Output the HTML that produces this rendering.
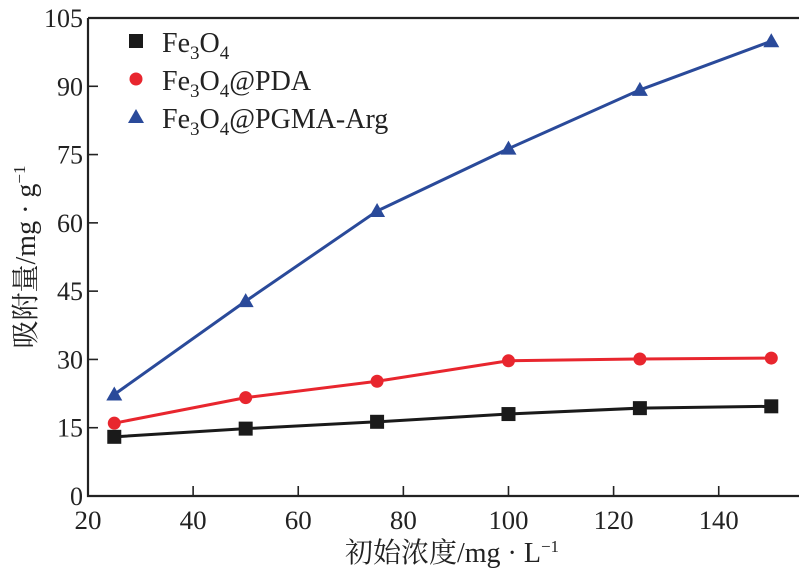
<!DOCTYPE html>
<html><head><meta charset="utf-8"><style>
body{margin:0;background:#fff;width:799px;height:573px;overflow:hidden}
svg text{font-family:"Liberation Serif","Noto Serif CJK SC",serif;fill:#222}
</style></head><body>
<svg id="chart" width="799" height="573" viewBox="0 0 799 573" xmlns="http://www.w3.org/2000/svg">
<g id="axes"></g><g id="series"></g><g id="legend"></g>
</svg>
<script>
const xValues=[25,50,75,100,125,150];
const fe3o4=[13,14.8,16.3,18,19.3,19.7];
const pda=[16,21.6,25.2,29.7,30.1,30.3];
const arg=[22.3,42.8,62.6,76.3,89.2,99.9];
const xTicks=[20,40,60,80,100,120,140];
const yTicks=[0,15,30,45,60,75,90,105];
const NS="http://www.w3.org/2000/svg";
const X0=88,XU=5.256,Y0=496,YU=(496-18)/105;
const sx=v=>X0+(v-20)*XU, sy=v=>Y0-v*YU;
function mk(tag,at,parent){const e=document.createElementNS(NS,tag);for(const k in at)e.setAttribute(k,at[k]);parent.appendChild(e);return e;}
const ax=document.getElementById('axes');
let e=mk('path',{d:`M${X0},18 V${Y0} H799 M${X0},18 H799`,stroke:'#222','stroke-width':2.2,fill:'none'},ax);


xTicks.forEach(t=>{const x=sx(t);
 let l=mk('line',{x1:x,x2:x,y1:Y0,y2:Y0-10,stroke:'#222','stroke-width':1.6},ax);
 
 
 let tx=mk('text',{x:x,y:Y0+33,'text-anchor':'middle','font-size':26,'textLength':t>=100?40:27,'lengthAdjust':'spacingAndGlyphs'},ax);tx.textContent=t;
 
 
});
yTicks.forEach(t=>{const y=sy(t);
 let l=mk('line',{x1:X0,x2:X0+10,y1:y,y2:y,stroke:'#222','stroke-width':1.6},ax);
 
 
 let tx=mk('text',{x:X0-5,y:y+9,'text-anchor':'end','font-size':26},ax);tx.textContent=t;
 
 
});
let xt=mk('text',{x:452,y:562,'text-anchor':'middle','font-size':28},ax);
xt.innerHTML='初始浓度/mg · L<tspan dy="-10" font-size="17">−1</tspan>';


let yt=mk('text',{x:0,y:0,'text-anchor':'middle','font-size':28,transform:'translate(35,257) rotate(-90)'},ax);
yt.innerHTML='吸附量/mg · g<tspan dy="-10" font-size="17">−1</tspan>';


const sg=document.getElementById('series');
function marker(kind,x,y,color,g){
 if(kind==='sq')return mk('rect',{x:x-7,y:y-7,width:14,height:14,fill:color},g);
 if(kind==='ci')return mk('circle',{cx:x,cy:y,r:6.5,fill:color},g);
 return mk('path',{d:`M${x},${y-8} L${x+8},${y+6} L${x-8},${y+6}Z`,fill:color},g);
}
function series(vals,color,kind,name){
 const g=mk('g',{},sg);
 
 
 let p=mk('polyline',{points:vals.map((v,i)=>sx(xValues[i])+','+sy(v)).join(' '),stroke:color,'stroke-width':3,fill:'none'},g);
 
 
 vals.forEach((v,i)=>{const m=marker(kind,sx(xValues[i]),sy(v),color,g);
  
  });
}
series(fe3o4,'#1a1a1a','sq','series-fe3o4');
series(pda,'#e8262e','ci','series-fe3o4-pda');
series(arg,'#2a4a9a','tr','series-fe3o4-pgma-arg');
const lg=document.getElementById('legend');
const items=[['sq','#1a1a1a','','legend-fe3o4',''],['ci','#e8262e','','legend-fe3o4-pda','@PDA'],['tr','#2a4a9a','','legend-fe3o4-pgma-arg','@PGMA-Arg']];
items.forEach((it,i)=>{const y=42+i*38;
 const g=mk('g',{},lg);
 
 
 marker(it[0],136,y-1,it[1],g);
 const t=mk('text',{x:162,y:y+10,'font-size':28},g);
 t.innerHTML='Fe<tspan dy="7" font-size="19">3</tspan><tspan dy="-7">O</tspan><tspan dy="7" font-size="19">4</tspan><tspan dy="-7">'+it[4]+'</tspan>';
});
</script>
</body></html>
